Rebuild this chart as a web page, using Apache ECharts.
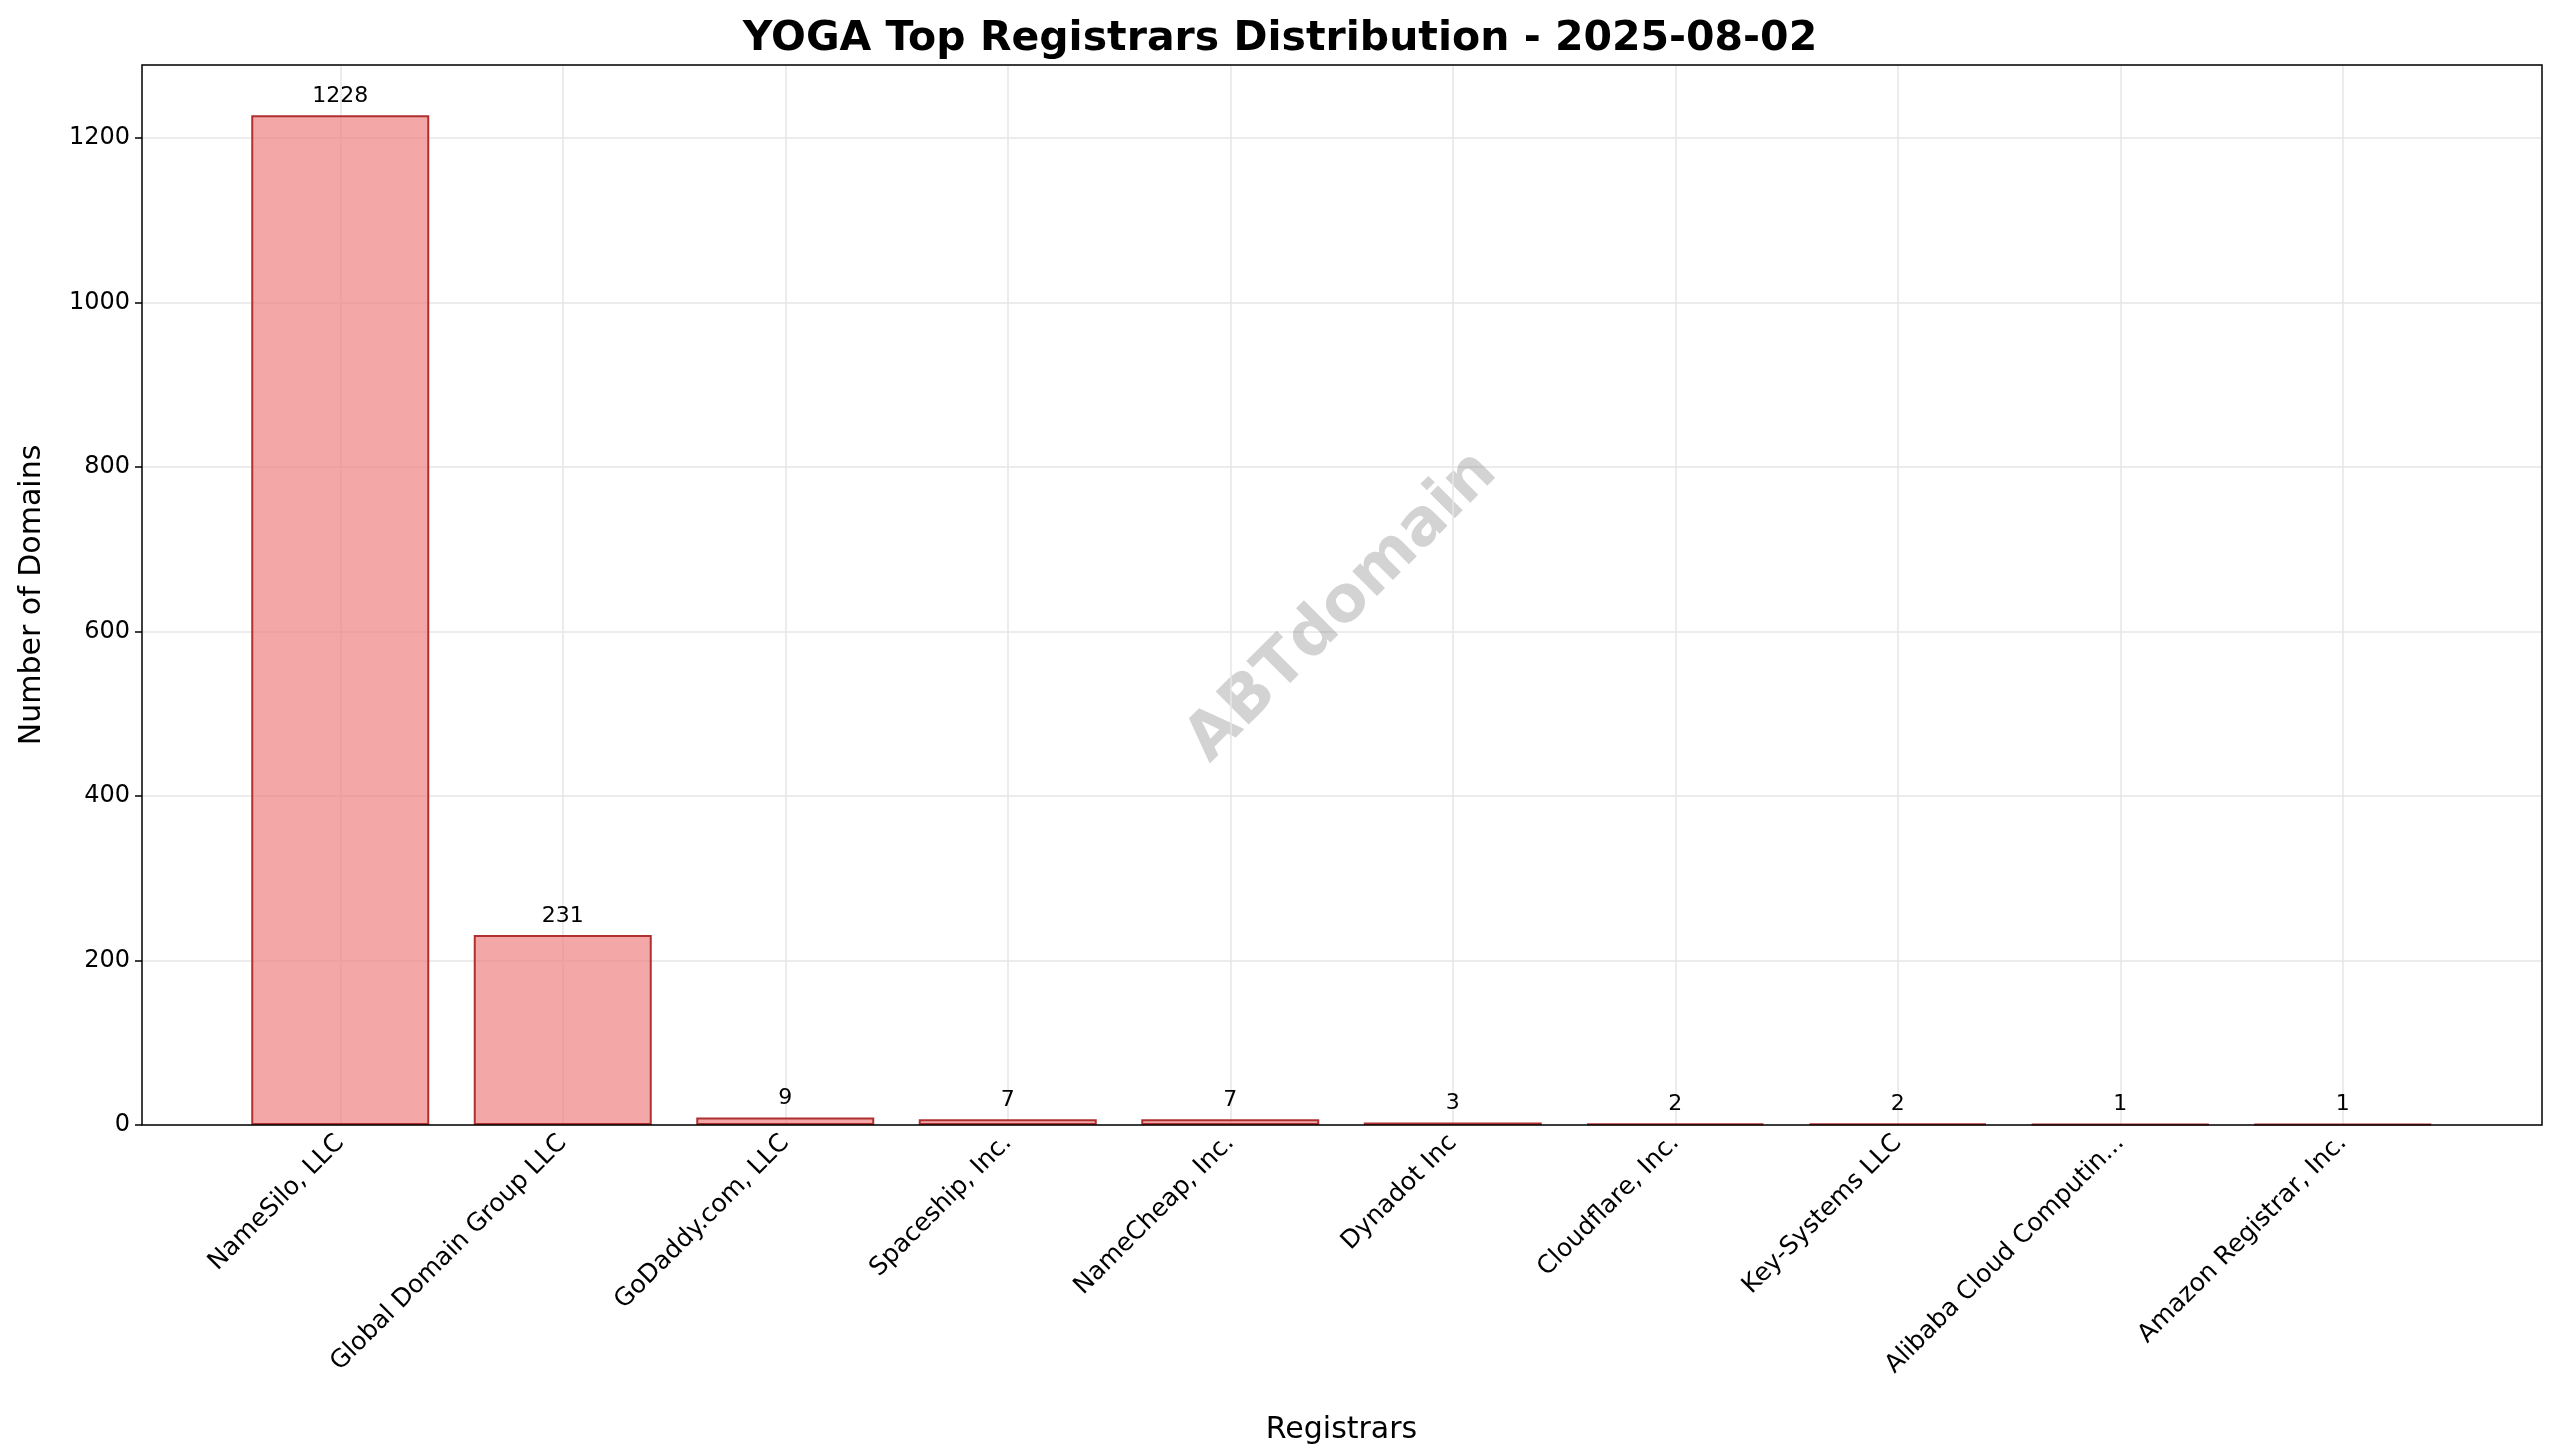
<!DOCTYPE html>
<html><head><meta charset="utf-8">
<script src="https://cdn.jsdelivr.net/npm/echarts@6/dist/echarts.min.js"></script>
<style>html,body{margin:0;padding:0;background:#fff}#c{width:2560px;height:1455px}</style>
</head><body><div id="c"></div>
<script>
const categories = ["NameSilo, LLC","Global Domain Group LLC","GoDaddy.com, LLC","Spaceship, Inc.","NameCheap, Inc.","Dynadot Inc","Cloudflare, Inc.","Key-Systems LLC","Alibaba Cloud Computin...","Amazon Registrar, Inc."];
const values = [1228,231,9,7,7,3,2,2,1,1];
const yTicks = [0,200,400,600,800,1000,1200];
const font = "DejaVu Sans";
const chart = echarts.init(document.getElementById('c'));
chart.setOption({
  backgroundColor:'#fff',
  animation:false,
  title:{text:'YOGA Top Registrars Distribution - 2025-08-02',left:'center',top:14,
    textStyle:{fontFamily:font,fontSize:41,fontWeight:'bold',color:'#000'}},
  graphic:[
    {type:'rect',shape:{x:142,y:65,width:2400,height:1060},z:100,silent:true,
     style:{fill:'none',stroke:'#000',lineWidth:1.5}},
    {type:'text',left:1175,top:440,rotation:Math.PI/4,z:1,
     style:{text:'ABTdomain',font:'bold 64px "DejaVu Sans"',fill:'rgba(128,128,128,0.35)'}}],
  grid:[
    {left:229,right:106,top:65,bottom:330},
    {left:142,right:18,top:65,bottom:330}
  ],
  xAxis:[
    {type:'category',gridIndex:0,data:categories,name:'Registrars',nameLocation:'middle',nameGap:290,
    nameTextStyle:{fontFamily:font,fontSize:30,color:'#000'},
    axisLine:{show:false},
    axisTick:{alignWithLabel:true,length:7,lineStyle:{color:'#000',width:1.5}},
    axisLabel:{rotate:45,interval:0,fontFamily:font,fontSize:25,color:'#000',margin:14},
    splitLine:{show:false}},
    {type:'value',gridIndex:1,show:false,min:0,max:1}
  ],
  yAxis:[
    {type:'value',gridIndex:0,min:0,max:1289,interval:200,show:false,splitLine:{show:false}},
    {type:'value',gridIndex:1,min:0,max:1289,interval:200,name:'Number of Domains',nameLocation:'middle',nameGap:95,
    nameTextStyle:{fontFamily:font,fontSize:30,color:'#000'},
    axisLine:{show:false},
    axisTick:{show:true,length:7,lineStyle:{color:'#000',width:1.5}},
    axisLabel:{fontFamily:font,fontSize:24,color:'#000',margin:12,showMaxLabel:false,formatter:v=>String(v)},
    splitLine:{show:true,lineStyle:{color:'#e6e6e6',width:1.5}}}
  ],
  series:[
    {type:'bar',xAxisIndex:0,yAxisIndex:0,data:values,barWidth:'80%',z:5,
    itemStyle:{color:'rgba(238,130,130,0.7)',borderColor:'#b03030',borderWidth:2},
    label:{show:true,position:'top',distance:8,fontFamily:font,fontSize:22,color:'#000'}},
    {type:'bar',xAxisIndex:0,yAxisIndex:0,data:values.map(()=>0),barGap:'-100%',barWidth:'80%',silent:true,
     markLine:{symbol:'none',silent:true,label:{show:false},lineStyle:{color:'#e6e6e6',width:1.5,type:'solid'},
       data:categories.map(c=>({xAxis:c}))}}
  ]
});
</script></body></html>
